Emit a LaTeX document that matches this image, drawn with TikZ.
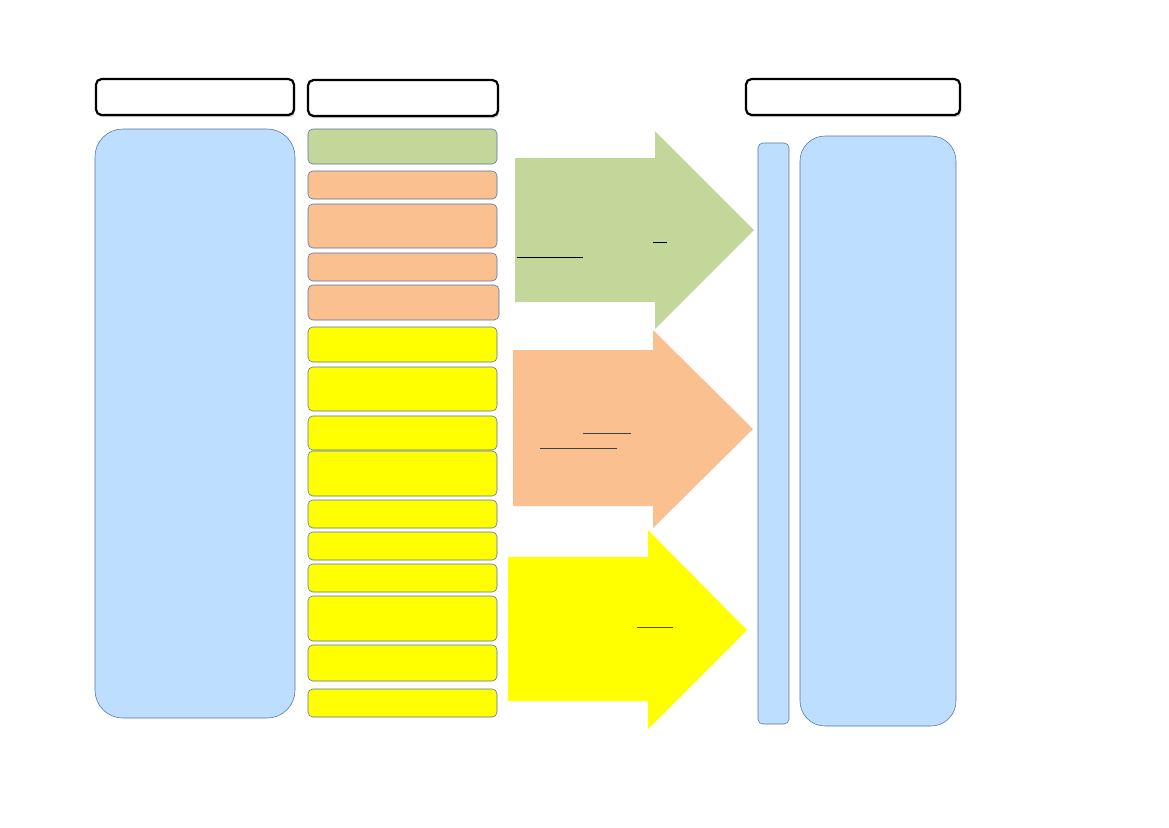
\documentclass[tikz,border=0pt]{standalone}
\usetikzlibrary{shadows}
\definecolor{paneblue}{RGB}{189,222,255}
\definecolor{paneedge}{RGB}{84,115,160}
\definecolor{stepgreen}{RGB}{196,215,155}
\definecolor{steporange}{RGB}{250,192,144}
\definecolor{stepyellow}{RGB}{255,255,0}
\tikzset{
  header/.style={draw=black,line width=1.6pt,fill=white,rounded corners=4pt,
    drop shadow={opacity=0.35,shadow xshift=0.8pt,shadow yshift=-1.6pt}},
  pane/.style={draw=paneedge,line width=0.4pt,fill=paneblue,rounded corners=20pt},
  slim/.style={draw=paneedge,line width=0.4pt,fill=paneblue,rounded corners=3.5pt},
  item/.style={draw=paneedge,line width=0.4pt,rounded corners=3.5pt},
  uline/.style={line width=0.7pt},
}
\begin{document}
\begin{tikzpicture}[x=0.72pt,y=-0.72pt]
\useasboundingbox (0,0) rectangle (1169,827);
% column headings
\path[header] (96,79) rectangle (294,115);
\path[header] (308,80) rectangle (498,116);
\path[header] (746,79) rectangle (960,115);
% left pane
\path[pane] (95,129) rectangle (295,718);
% steps
\path[item,fill=stepgreen] (308,129) rectangle (497,164);
\path[item,fill=steporange] (308,171) rectangle (497,199);
\path[item,fill=steporange] (308,204) rectangle (497,248);
\path[item,fill=steporange] (308,253) rectangle (497,281);
\path[item,fill=steporange] (308,285) rectangle (499,320);
\path[item,fill=stepyellow] (308,327) rectangle (497,362);
\path[item,fill=stepyellow] (308,367) rectangle (497,411);
\path[item,fill=stepyellow] (308,416) rectangle (497,450);
\path[item,fill=stepyellow] (308,451) rectangle (497,496);
\path[item,fill=stepyellow] (308,500) rectangle (497,528);
\path[item,fill=stepyellow] (308,532) rectangle (497,560);
\path[item,fill=stepyellow] (308,564) rectangle (497,592);
\path[item,fill=stepyellow] (308,596) rectangle (497,641);
\path[item,fill=stepyellow] (308,645) rectangle (497,681);
\path[item,fill=stepyellow] (308,689) rectangle (497,717);
% big arrows
\fill[stepgreen] (515,158) -- (655,158) -- (655,131) -- (754,230) -- (655,329) -- (655,302) -- (515,302) -- cycle;
\fill[steporange] (513,350) -- (653,350) -- (653,330) -- (753,429) -- (653,528) -- (653,506) -- (513,506) -- cycle;
\fill[stepyellow] (508,557) -- (648,557) -- (648,530) -- (747,630) -- (648,729) -- (648,701) -- (508,701) -- cycle;
% underlines
\draw[uline] (517,257) -- (583,257);
\draw[uline] (653,242) -- (667,242);
\draw[uline,black!75] (583,433) -- (631,433);
\draw[uline,black!75] (540,448) -- (617,448);
\draw[uline,black!70] (637,627) -- (673,627);
% right side
\path[slim] (758,143) rectangle (789,724);
\path[pane,rounded corners=18pt] (800,136) rectangle (956,726);
\end{tikzpicture}
\end{document}
